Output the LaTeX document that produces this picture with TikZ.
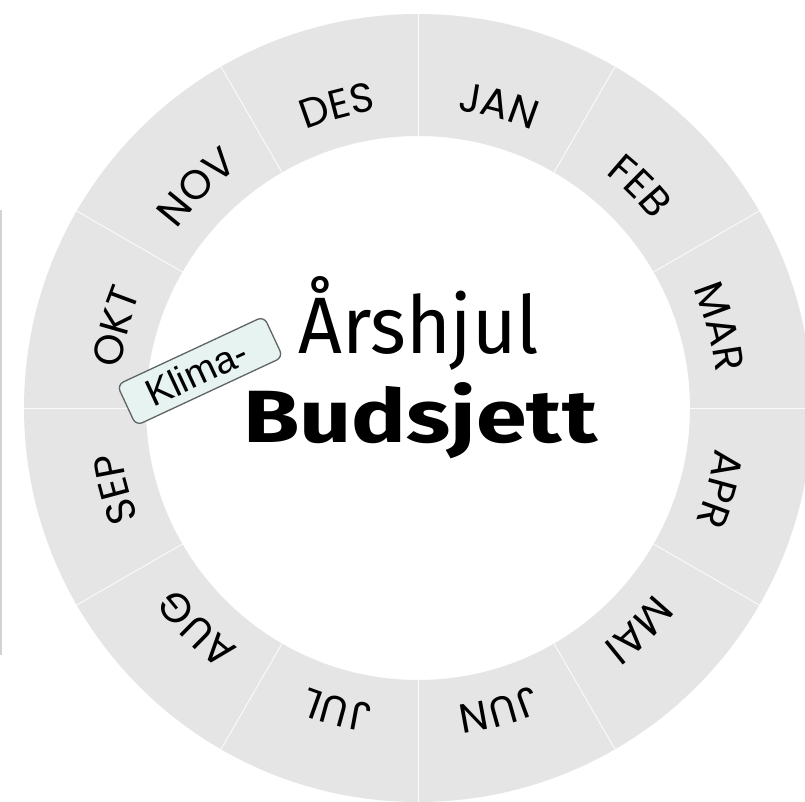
\documentclass[tikz,border=0pt]{standalone}
\usepackage{fontspec}
\usepackage{graphicx}
\usetikzlibrary{decorations.text}
\newfontfamily\monthfont{Poppins}
\newfontfamily\titlefont{Fira Sans}
\newfontfamily\klimafont{Liberation Sans}
\definecolor{ringgray}{RGB}{229,229,229}
\definecolor{klimafill}{RGB}{230,243,240}
\definecolor{klimaedge}{RGB}{95,100,100}
\tikzset{
  monthlabel/.style={decorate, decoration={text along path, text align=center,
      text={|\monthfont\fontsize{41pt}{48pt}\selectfont|#1}}},
  divider/.style={draw=white!85!ringgray, line width=0.9pt},
  klimabox/.style={draw=klimaedge, fill=klimafill, rounded corners=7pt, line width=1.3pt,
      minimum width=162pt, minimum height=45pt, inner sep=0pt,
      font=\klimafont\fontsize{38pt}{42pt}\selectfont},
  titletext/.style={anchor=base west, inner sep=0pt}
}
\begin{document}
\begin{tikzpicture}[x=1pt,y=1pt]
\useasboundingbox (0,0) rectangle (805,801);
\clip (0,0) rectangle (805,801);
\fill[white] (0,0) rectangle (805,801);
\fill[gray!35] (0,146) rectangle (2,591);
\coordinate (C) at (418,393);
% ring
\fill[ringgray, even odd rule] (C) circle[radius=394pt] (C) circle[radius=272pt];
% dividers
\foreach \a in {0,30,...,330}
  \draw[divider] ([shift={(\a:272pt)}]C) -- ([shift={(\a:394pt)}]C);
% months
\path[monthlabel={JAN}] ([shift={(95:300pt)}]C) arc[start angle=95, end angle=55, radius=300pt];
\path[monthlabel={FEB}] ([shift={(65:300pt)}]C) arc[start angle=65, end angle=25, radius=300pt];
\path[monthlabel={MAR}] ([shift={(35:300pt)}]C) arc[start angle=35, end angle=-5, radius=300pt];
\path[monthlabel={APR}] ([shift={(5:300pt)}]C) arc[start angle=5, end angle=-35, radius=300pt];
\path[monthlabel={MAI}] ([shift={(-25:300pt)}]C) arc[start angle=-25, end angle=-65, radius=300pt];
\path[monthlabel={JUN}] ([shift={(-55:300pt)}]C) arc[start angle=-55, end angle=-95, radius=300pt];
\path[monthlabel={JUL}] ([shift={(-85:300pt)}]C) arc[start angle=-85, end angle=-125, radius=300pt];
\path[monthlabel={AUG}] ([shift={(-115:300pt)}]C) arc[start angle=-115, end angle=-155, radius=300pt];
\path[monthlabel={SEP}] ([shift={(-145:300pt)}]C) arc[start angle=-145, end angle=-185, radius=300pt];
\path[monthlabel={OKT}] ([shift={(185:300pt)}]C) arc[start angle=185, end angle=145, radius=300pt];
\path[monthlabel={NOV}] ([shift={(155:300pt)}]C) arc[start angle=155, end angle=115, radius=300pt];
\path[monthlabel={DES}] ([shift={(125:300pt)}]C) arc[start angle=125, end angle=85, radius=300pt];
% titles
\node[titletext] (arshjul) at (298,447) {\resizebox{241pt}{77pt}{\titlefont Årshjul}};
\node[titletext] (budsjett) at (243,358) {\resizebox{354pt}{60pt}{\titlefont\bfseries Budsjett}};
% klima tag
\node[klimabox, rotate=25] (klima) at (200,430) {\hspace*{-8pt}Klima-};
\end{tikzpicture}
\end{document}
